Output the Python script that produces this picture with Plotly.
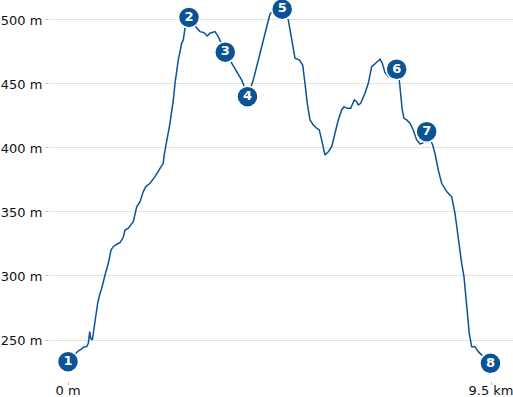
import plotly.graph_objects as go

# Elevation profile (distance in km, elevation in m)
distance_km = [0.0, 0.225, 0.308, 0.344, 0.42, 0.456, 0.487, 0.51, 0.546, 0.606, 0.667, 0.719, 0.757,
               0.831, 0.905, 0.966, 1.017, 1.094, 1.168, 1.242, 1.28, 1.354, 1.466, 1.543, 1.617, 1.691,
               1.745, 1.841, 1.954, 2.066, 2.14, 2.156, 2.2, 2.246, 2.29, 2.365, 2.403, 2.477, 2.553,
               2.589, 2.627, 2.717, 2.807, 2.89, 2.964, 3.054, 3.128, 3.189, 3.301, 3.375, 3.452, 3.532,
               3.676, 3.788, 3.901, 3.975, 4.031, 4.161, 4.238, 4.35, 4.462, 4.536, 4.649, 4.81, 4.947,
               5.001, 5.037, 5.098, 5.194, 5.271, 5.322, 5.374, 5.435, 5.509, 5.585, 5.643, 5.697, 5.771,
               5.846, 5.922, 5.996, 6.07, 6.146, 6.198, 6.272, 6.349, 6.43, 6.483, 6.519, 6.573, 6.67,
               6.744, 6.82, 6.894, 6.946, 7.006, 7.058, 7.119, 7.193, 7.231, 7.381, 7.44, 7.472, 7.507,
               7.545, 7.606, 7.68, 7.754, 7.831, 7.905, 7.966, 8.055, 8.19, 8.241, 8.316, 8.392, 8.504,
               8.617, 8.691, 8.765, 8.841, 8.893, 8.953, 9.012, 9.066, 9.14, 9.214, 9.29, 9.488]
elevation_m = [233.1, 241.4, 243.0, 244.3, 244.8, 247.4, 256.5, 251.3, 250.0, 265.6, 278.9, 286.5, 290.4,
               300.8, 309.9, 320.3, 322.9, 324.8, 326.0, 330.2, 335.9, 337.3, 342.4, 354.1, 358.0, 365.9,
               369.8, 372.4, 377.6, 384.1, 388.0, 393.8, 401.6, 408.6, 419.3, 437.5, 450.5, 468.8, 481.8,
               484.4, 493.5, 500.5, 496.9, 493.5, 490.9, 490.1, 487.5, 489.6, 490.9, 487.0, 480.5, 474.8,
               466.2, 459.6, 453.1, 446.6, 440.1, 453.1, 463.5, 479.1, 494.8, 504.7, 507.8, 508.4, 500.0,
               489.6, 481.8, 470.1, 468.8, 464.8, 450.5, 434.9, 421.9, 418.0, 415.4, 414.1, 406.3, 394.5,
               397.1, 401.0, 411.5, 421.9, 429.7, 432.3, 431.0, 431.0, 437.5, 436.2, 433.6, 434.9, 442.7,
               450.5, 463.5, 466.2, 467.4, 469.3, 466.2, 459.0, 455.7, 458.6, 461.5, 453.1, 442.7, 429.7,
               423.2, 421.9, 419.3, 414.1, 406.3, 403.1, 403.7, 412.7, 402.3, 395.9, 382.8, 372.4, 365.9,
               361.9, 349.0, 328.1, 309.9, 299.5, 278.7, 255.2, 244.8, 244.8, 240.9, 238.3, 231.8]

# Waypoints
wp_labels = ["1", "2", "3", "4", "5", "6", "7", "8"]
wp_distance = [0.0, 2.717, 3.532, 4.031, 4.81, 7.381, 8.055, 9.488]
wp_elevation = [233.1, 502.0, 474.8, 440.1, 508.4, 461.5, 412.7, 231.8]

# Axis ticks
y_ticks = [250, 300, 350, 400, 450, 500]
y_ticktext = ["250 m", "300 m", "350 m", "400 m", "450 m", "500 m"]
x_ticks = [0, 9.5]
x_ticktext = ["0 m", "9.5 km"]

blue = "#0b5394"

fig = go.Figure()
fig.add_trace(go.Scatter(x=distance_km, y=elevation_m, mode="lines",
                         line=dict(color=blue, width=1.5), hoverinfo="skip"))
fig.add_trace(go.Scatter(x=wp_distance, y=wp_elevation, mode="markers+text",
                         text=wp_labels, textposition="middle center",
                         textfont=dict(family="DejaVu Sans", size=13, color="white", weight="bold"),
                         marker=dict(size=21, color=blue, line=dict(color="white", width=1.5)),
                         cliponaxis=False))

fig.update_layout(
    width=513, height=397,
    margin=dict(l=49, r=0, t=0, b=16),
    paper_bgcolor="white", plot_bgcolor="white",
    showlegend=False,
    font=dict(family="DejaVu Sans", size=13, color="#111"),
    xaxis=dict(range=[-0.427, 9.994], tickvals=x_ticks, ticktext=x_ticktext,
               showgrid=False, zeroline=False, showline=False, automargin=False,
               ticklabeloverflow="allow", ticklabelstandoff=-6,
               ticks="outside", ticklen=3, tickcolor="#bbb", tickwidth=1),
    yaxis=dict(range=[217.97, 515.6], tickvals=y_ticks, ticktext=y_ticktext,
               showgrid=True, gridcolor="#e3e3e3", gridwidth=1,
               zeroline=False, showline=False, automargin=False,
               ticks="outside", ticklen=3, tickcolor="#bbb", tickwidth=1),
)

fig.write_html("out.html")
